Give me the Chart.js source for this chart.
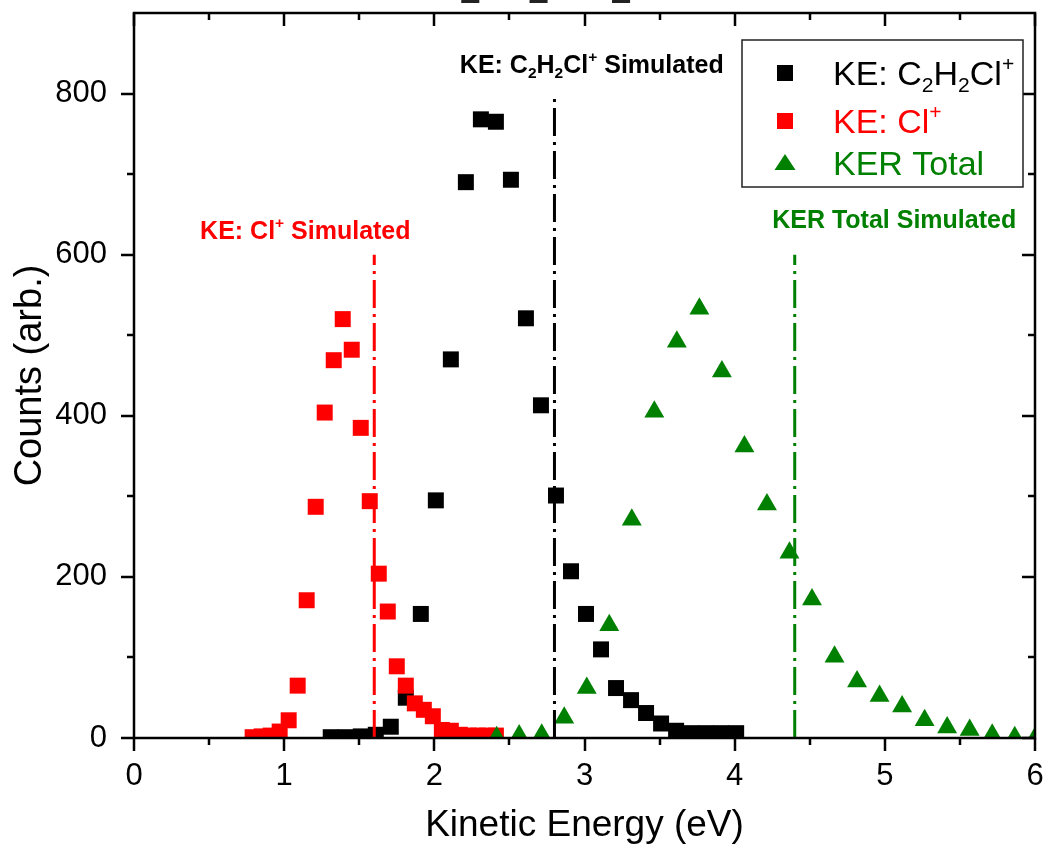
<!DOCTYPE html>
<html lang="en">
<head>
<meta charset="UTF-8">
<title>Kinetic Energy Distributions</title>
<style>
  html, body { margin: 0; padding: 0; background: #fff; }
  #wrap { width: 1045px; height: 853px; position: relative; }
</style>
</head>
<body>
<div id="wrap"><canvas id="keChart"></canvas></div>

<script src="https://cdn.jsdelivr.net/npm/chart.js@4"></script>
<script>
// --- data ---
const c2h2clX = [1.31, 1.41, 1.51, 1.61, 1.71, 1.81, 1.91, 2.01, 2.11, 2.21, 2.31, 2.41, 2.51, 2.61,
                 2.71, 2.81, 2.91, 3.01, 3.11, 3.21, 3.31, 3.41, 3.51, 3.61, 3.71, 3.81, 3.91, 4.01];
const c2h2clY = [1, 1, 2, 4, 14, 50, 154, 295, 470, 690, 768, 765, 693, 521,
                 413, 301, 207, 154, 110, 62, 47, 31, 18, 9, 6, 6, 6, 6];

const clX = [0.79, 0.85, 0.91, 0.97, 1.03, 1.09, 1.15, 1.21, 1.27, 1.33, 1.39, 1.45, 1.51, 1.57,
             1.63, 1.69, 1.75, 1.81, 1.87, 1.93, 1.99, 2.05, 2.11, 2.17, 2.23, 2.29, 2.35, 2.41];
const clY = [1, 2, 3, 8, 22, 65, 171, 287, 404, 469, 520, 482, 385, 294,
             204, 157, 89, 65, 43, 35, 27, 10, 9, 4, 3, 3, 3, 3];

const kerX = [2.415, 2.565, 2.715, 2.865, 3.015, 3.165, 3.315, 3.465, 3.615, 3.765, 3.915, 4.065, 4.215,
              4.365, 4.515, 4.665, 4.815, 4.965, 5.115, 5.265, 5.415, 5.565, 5.715, 5.865, 6.0];
const kerY = [1, 3, 4, 25, 62, 140, 271, 405, 492, 533, 455, 362, 290,
              230, 172, 101, 70, 52, 39, 22, 13, 10, 4, 1, 0];

// simulated values (vertical markers) and their heights
const simX = [1.6, 2.8, 4.4];
const simTop = [600, 800, 600];

const xTicks = [0, 1, 2, 3, 4, 5, 6];
const yTicks = [0, 200, 400, 600, 800];

const BLACK = '#000000', RED = '#ff0000', GREEN = '#008000';
const FONT = "'Liberation Sans', Arial, Helvetica, sans-serif";

function pts(xs, ys) { return xs.map((x, i) => ({ x: x, y: ys[i] })); }

// text with sub/superscripts: parts = [[text, ''|'sub'|'sup'], ...]
function richText(ctx, parts, x, y, size, weight, color) {
  ctx.save();
  ctx.fillStyle = color;
  ctx.textBaseline = 'alphabetic';
  ctx.textAlign = 'left';
  let cx = x;
  parts.forEach(([t, m]) => {
    const s = m ? size * 0.62 : size;
    ctx.font = weight + ' ' + s + 'px ' + FONT;
    const dy = m === 'sub' ? size * 0.2 : (m === 'sup' ? -size * 0.42 : 0);
    ctx.fillText(t, cx, y + dy);
    cx += ctx.measureText(t).width;
  });
  ctx.restore();
  return cx - x;
}

const legendItems = [
  { color: BLACK, shape: 'rect', parts: [['KE: C', ''], ['2', 'sub'], ['H', ''], ['2', 'sub'], ['Cl', ''], ['+', 'sup']] },
  { color: RED, shape: 'rect', parts: [['KE: Cl', ''], ['+', 'sup']] },
  { color: GREEN, shape: 'tri', parts: [['KER Total', '']] }
];

const simLabels = [
  { color: RED, x: 0.44, y: 620, parts: [['KE: Cl', ''], ['+', 'sup'], [' Simulated', '']] },
  { color: BLACK, x: 2.17, y: 826, parts: [['KE: C', ''], ['2', 'sub'], ['H', ''], ['2', 'sub'], ['Cl', ''], ['+', 'sup'], [' Simulated', '']] },
  { color: GREEN, x: 4.25, y: 633, parts: [['KER Total Simulated', '']] }
];

const extrasPlugin = {
  id: 'extras',
  afterDraw(chart) {
    const { ctx, chartArea: a, scales: { x, y } } = chart;

    // title (mostly cut off above the picture)
    richText(ctx, [['C', ''], ['2', 'sub'], ['H', ''], ['2', 'sub'], ['Cl', ''], ['2', 'sub']],
             413, -10, 64, 'normal', '#222');

    // simulated labels
    simLabels.forEach(l => {
      richText(ctx, l.parts, x.getPixelForValue(l.x), y.getPixelForValue(l.y), 25, 'bold', l.color);
    });

    // frame + ticks
    ctx.save();
    ctx.strokeStyle = '#000';
    ctx.lineWidth = 2.5;
    ctx.strokeRect(a.left, a.top, a.right - a.left, a.bottom - a.top);
    ctx.beginPath();
    for (let v = 0; v <= 6; v += 0.5) {
      const px = Math.round(x.getPixelForValue(v));
      const len = Number.isInteger(v) ? 13 : 7;
      ctx.moveTo(px, a.bottom); ctx.lineTo(px, a.bottom + len);
      ctx.moveTo(px, a.top); ctx.lineTo(px, a.top + len);
    }
    for (let v = 0; v <= 800; v += 100) {
      const py = Math.round(y.getPixelForValue(v));
      const len = v % 200 === 0 ? 13 : 7;
      ctx.moveTo(a.left, py); ctx.lineTo(a.left - len, py);
      ctx.moveTo(a.right, py); ctx.lineTo(a.right - len, py);
    }
    ctx.stroke();
    ctx.restore();

    // legend
    ctx.save();
    ctx.fillStyle = '#fff';
    ctx.fillRect(742, 40, 281, 147);
    ctx.strokeStyle = '#222';
    ctx.lineWidth = 1.5;
    ctx.strokeRect(742, 40, 281, 147);
    const rows = [73, 121, 163];
    legendItems.forEach((it, i) => {
      const cy = rows[i];
      ctx.fillStyle = it.color;
      if (it.shape === 'rect') {
        ctx.fillRect(777, cy - 8, 16, 16);
      } else {
        ctx.beginPath();
        ctx.moveTo(785, cy - 9);
        ctx.lineTo(795.5, cy + 7);
        ctx.lineTo(774.5, cy + 7);
        ctx.closePath();
        ctx.fill();
      }
      richText(ctx, it.parts, 833, cy + 12, 34, 'normal', it.color);
    });
    ctx.restore();
  }
};

function simLine(i, color) {
  return {
    label: 'sim' + i,
    data: [{ x: simX[i], y: 0 }, { x: simX[i], y: simTop[i] }],
    showLine: true,
    borderColor: color,
    borderWidth: 3,
    borderDash: [28, 6, 3, 6],
    pointRadius: 0,
    clip: 0,
    order: 0
  };
}

// keep the plot frame where the picture has it: no extra room for edge labels
function noEdgePadding(s) {
  s.paddingTop = 0; s.paddingBottom = 0; s.paddingLeft = 0; s.paddingRight = 0;
}

new Chart(document.getElementById('keChart'), {
  type: 'scatter',
  data: {
    datasets: [
      simLine(0, RED),
      simLine(1, BLACK),
      simLine(2, GREEN),
      { label: 'KER Total', data: pts(kerX, kerY), backgroundColor: GREEN, borderWidth: 0,
        pointStyle: 'triangle', pointRadius: 11.5, clip: 0, order: 1 },
      { label: 'KE: Cl+', data: pts(clX, clY), backgroundColor: RED, borderWidth: 0,
        pointStyle: 'rect', pointRadius: 11.3, clip: 0, order: 2 },
      { label: 'KE: C2H2Cl+', data: pts(c2h2clX, c2h2clY), backgroundColor: BLACK, borderWidth: 0,
        pointStyle: 'rect', pointRadius: 11.3, clip: 0, order: 3 }
    ]
  },
  options: {
    responsive: true,
    maintainAspectRatio: false,
    animation: false,
    devicePixelRatio: 1,
    layout: { autoPadding: false, padding: { top: 13, right: 10, left: 0, bottom: 0 } },
    plugins: { legend: { display: false }, tooltip: { enabled: false } },
    scales: {
      x: {
        type: 'linear', min: 0, max: 6,
        grid: { display: false, drawTicks: false },
        border: { display: false },
        afterBuildTicks: s => { s.ticks = xTicks.map(v => ({ value: v })); },
        afterFit: s => { s.height = 115; noEdgePadding(s); },
        ticks: { color: '#000', font: { family: FONT, size: 31 }, padding: 20, maxRotation: 0, autoSkip: false },
        title: { display: true, text: 'Kinetic Energy (eV)', color: '#000',
                 font: { family: FONT, size: 37 }, padding: { top: 0, bottom: 5 } }
      },
      y: {
        type: 'linear', min: 0, max: 900,
        grid: { display: false, drawTicks: false },
        border: { display: false },
        afterBuildTicks: s => { s.ticks = yTicks.map(v => ({ value: v })); },
        afterFit: s => { s.width = 134; noEdgePadding(s); },
        ticks: { color: '#000', font: { family: FONT, size: 31 }, padding: 27, autoSkip: false },
        title: { display: true, text: 'Counts (arb.)', color: '#000',
                 font: { family: FONT, size: 38 }, padding: { top: 8, bottom: 0 } }
      }
    }
  },
  plugins: [extrasPlugin]
});
</script>
</body>
</html>
